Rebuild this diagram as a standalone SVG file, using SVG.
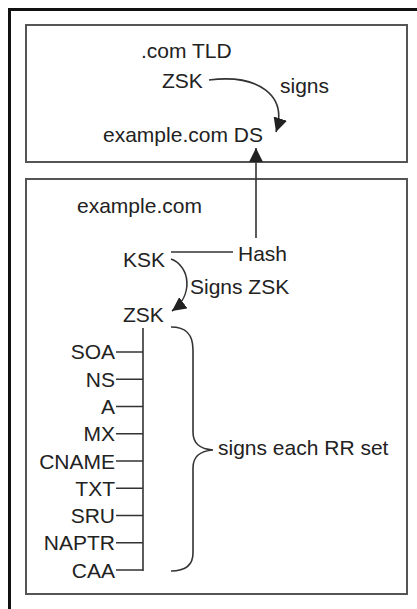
<svg xmlns="http://www.w3.org/2000/svg" width="417" height="609" viewBox="0 0 417 609">
<style>
text{font-family:"Liberation Sans",Arial,sans-serif;font-size:21px;fill:#222}
.box{fill:none;stroke:#555;stroke-width:2}
.ln{fill:none;stroke:#333;stroke-width:1.6}
.r{text-anchor:end}
</style>
<defs>
<marker id="ah" viewBox="0 0 14 14" refX="14" refY="7" markerWidth="14" markerHeight="14" markerUnits="userSpaceOnUse" orient="auto">
<path d="M0,0 L14,7 L0,14 z" fill="#222"/>
</marker>
</defs>
<rect x="0" y="0" width="417" height="609" fill="#fff"/>
<g id="frame">
<path d="M9.5,609 L9.5,9.5 L417,9.5" fill="none" stroke="#111" stroke-width="3"/>
</g>
<g id="tld-box">
<rect class="box" x="26" y="25" width="381" height="137"/>
<text x="141" y="58">.com TLD</text>
<text x="162" y="88">ZSK</text>
<text x="280" y="93">signs</text>
<text x="103" y="142">example.com DS</text>
</g>
<g id="zone-box">
<rect class="box" x="26" y="179" width="381" height="415"/>
<text x="77" y="213">example.com</text>
<text x="123" y="267">KSK</text>
<text x="238" y="261">Hash</text>
<text x="190" y="294">Signs ZSK</text>
<text x="123" y="322">ZSK</text>
<text x="218" y="455">signs each RR set</text>
</g>
<g id="records">
<text class="r" x="115" y="359">SOA</text>
<text class="r" x="115" y="387">NS</text>
<text class="r" x="115" y="414">A</text>
<text class="r" x="115" y="441">MX</text>
<text class="r" x="115" y="469">CNAME</text>
<text class="r" x="115" y="496">TXT</text>
<text class="r" x="115" y="523">SRU</text>
<text class="r" x="115" y="550">NAPTR</text>
<text class="r" x="115" y="578">CAA</text>
</g>
<g id="connectors">
<path class="ln" d="M209,80 C258,74 288,95 276,132" marker-end="url(#ah)"/>
<path class="ln" d="M256,238 L256,148" marker-end="url(#ah)"/>
<path class="ln" d="M171,252 L233,252"/>
<path class="ln" d="M171,259 C190,266 194,295 172,311" marker-end="url(#ah)"/>
<path class="ln" d="M143,328 L143,571"/>
<path class="ln" d="M116,352 H143 M116,379.25 H143 M116,406.5 H143 M116,433.75 H143 M116,461 H143 M116,488.25 H143 M116,515.5 H143 M116,542.75 H143 M116,570 H143"/>
<path class="ln" d="M171,327 C185,327 193,333 193,350 L193,432 C193,444 200,449 213,450 C200,451 193,456 193,468 L193,553 C193,566 185,571 171,571"/>
</g>
</svg>
